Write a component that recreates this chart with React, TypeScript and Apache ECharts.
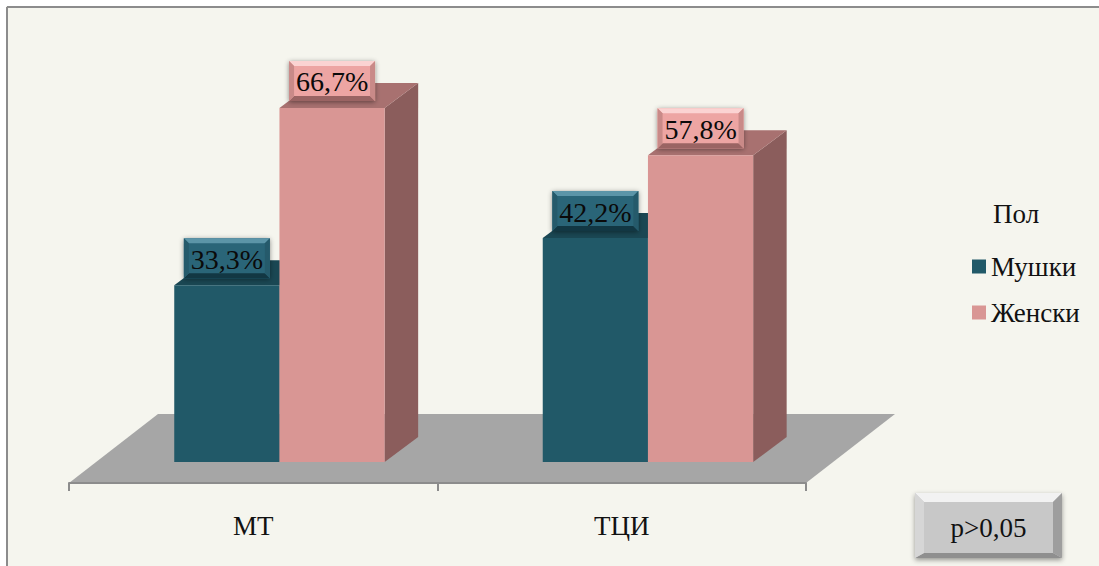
import React, { useEffect, useRef } from "react";
import * as echarts from "echarts";

const categories = ["МТ", "ТЦИ"];
const seriesNames = ["Мушки", "Женски"];
const maleValues = [33.3, 42.2];
const femaleValues = [66.7, 57.8];
const legendTitle = "Пол";
const pNote = "p>0,05";

const FONT = '"Liberation Serif", "Times New Roman", serif';

const fmt = (v: number) => `${v.toFixed(1).replace(".", ",")}%`;

function poly(points: number[][], fill: string, z2 = 0) {
  return { type: "polygon", z2, shape: { points }, style: { fill, stroke: "none" } };
}

function barRender(side: -1 | 1, c: any) {
  return (_p: any, api: any) => {
    const cat = api.value(0);
    const val = api.value(1);
    const base = api.coord([cat, 0]);
    const top = api.coord([cat, val]);
    const band = api.size([1, 0])[0];
    const w = band * 0.2855;
    const cx = base[0] + 26.2;
    const x0 = side < 0 ? cx - w : cx;
    const x1 = x0 + w;
    const yb = base[1] - 21;
    const yt = top[1] - 21;
    const dx = 33.5;
    const dy = 25;
    const lw = 86;
    const lh = 40;
    const lx = (x0 + x1) / 2 - lw / 2;
    const ly = yt - 7 - lh;
    const b = 5;
    return {
      type: "group",
      children: [
        poly([[x1, yb], [x1 + dx, yb - dy], [x1 + dx, yt - dy], [x1, yt]], c.side),
        poly([[x0, yt], [x0 + dx, yt - dy], [x1 + dx, yt - dy], [x1, yt]], c.top),
        { type: "rect", shape: { x: x0, y: yt, width: w, height: yb - yt }, style: { fill: c.front } },
        {
          type: "rect",
          shape: { x: lx, y: ly, width: lw, height: lh },
          style: { fill: c.label, shadowBlur: 5, shadowColor: "rgba(0,0,0,0.45)", shadowOffsetY: 1 },
        },
        poly([[lx, ly], [lx + lw, ly], [lx + lw - b, ly + b], [lx + b, ly + b]], c.bevelTop),
        poly([[lx, ly + lh], [lx + lw, ly + lh], [lx + lw - b, ly + lh - b], [lx + b, ly + lh - b]], c.bevelBottom),
        poly([[lx, ly], [lx + b, ly + b], [lx + b, ly + lh - b], [lx, ly + lh]], c.bevelSide),
        poly([[lx + lw, ly], [lx + lw - b, ly + b], [lx + lw - b, ly + lh - b], [lx + lw, ly + lh]], c.bevelSide),
        {
          type: "text",
          style: {
            x: lx + lw / 2,
            y: ly + lh / 2 + 1,
            text: fmt(val),
            fill: "#0a0a0a",
            font: `28px ${FONT}`,
            align: "center",
            verticalAlign: "middle",
          },
        },
      ],
    };
  };
}

const floorRender = (p: any, api: any) => {
  const cs = p.coordSys;
  const y = cs.y + cs.height;
  const x = cs.x;
  const w = cs.width;
  return poly([[x, y], [x + w, y], [x + w + 89, y - 69], [x + 89, y - 69]], "#a6a6a6");
};

const blue = {
  front: "#215968",
  side: "#173f4a",
  top: "#1a4753",
  label: "#2b6578",
  bevelTop: "#5c95a8",
  bevelBottom: "#123743",
  bevelSide: "#255a6b",
};
const pink = {
  front: "#d99694",
  side: "#8b5d5c",
  top: "#a87170",
  label: "#eda5a3",
  bevelTop: "#fbd3d2",
  bevelBottom: "#9a6463",
  bevelSide: "#c98a88",
};

export default function App() {
  const ref = useRef<HTMLDivElement>(null);
  useEffect(() => {
    const chart = echarts.init(ref.current!, null, { renderer: "svg" });
    const bx = 915, by = 493, bw = 147, bh = 65, bb = 9;
    chart.setOption({
      animation: false,
      backgroundColor: "#ffffff",
      grid: { left: 69, width: 737, top: 58.4, height: 424.6 },
      xAxis: {
        type: "category",
        data: categories,
        z: 5,
        axisLine: { show: true, lineStyle: { color: "#8c8c8c", width: 2 } },
        axisTick: { show: true, alignWithLabel: false, inside: false, length: 8, lineStyle: { color: "#8c8c8c", width: 2 } },
        axisLabel: { color: "#111", fontFamily: FONT, fontSize: 27, margin: 29 },
      },
      yAxis: { type: "value", min: 0, max: 80, show: false },
      legend: {
        data: seriesNames,
        orient: "vertical",
        left: 972,
        top: 253,
        itemWidth: 14,
        itemHeight: 14,
        itemGap: 19,
        icon: "rect",
        textStyle: { color: "#111", fontFamily: FONT, fontSize: 27, lineHeight: 27 },
        padding: 0,
      },
      graphic: [
        {
          type: "group",
          z: 0,
          silent: true,
          children: [
            { type: "rect", shape: { x: 6, y: 6, width: 1093, height: 560 }, style: { fill: "#f5f5ee" } },
            { type: "line", shape: { x1: 7, y1: 7, x2: 1099, y2: 7 }, style: { stroke: "#8c8c8c", lineWidth: 2 } },
            { type: "line", shape: { x1: 7, y1: 7, x2: 7, y2: 566 }, style: { stroke: "#8c8c8c", lineWidth: 2 } },
          ],
        },
        {
          type: "text",
          left: 993,
          top: 200,
          style: { text: legendTitle, fill: "#111", font: `27px ${FONT}` },
        },
        {
          type: "group",
          silent: true,
          children: [
            {
              type: "rect",
              shape: { x: bx, y: by, width: bw, height: bh },
              style: { fill: "#c8c8c8", shadowBlur: 5, shadowColor: "rgba(0,0,0,0.4)", shadowOffsetY: 2 },
            },
            { type: "polygon", shape: { points: [[bx, by], [bx + bw, by], [bx + bw - bb, by + bb], [bx + bb, by + bb]] }, style: { fill: "#f2f2f2" } },
            { type: "polygon", shape: { points: [[bx, by + bh], [bx + bw, by + bh], [bx + bw - bb, by + bh - 5], [bx + bb, by + bh - 5]] }, style: { fill: "#8f8f8f" } },
            { type: "polygon", shape: { points: [[bx, by], [bx + bb, by + bb], [bx + bb, by + bh - 5], [bx, by + bh]] }, style: { fill: "#d6d6d6" } },
            { type: "polygon", shape: { points: [[bx + bw, by], [bx + bw - bb, by + bb], [bx + bw - bb, by + bh - 5], [bx + bw, by + bh]] }, style: { fill: "#9e9e9e" } },
            {
              type: "text",
              style: {
                x: bx + bw / 2,
                y: by + bh / 2 + 2,
                text: pNote,
                fill: "#111",
                font: `27px ${FONT}`,
                align: "center",
                verticalAlign: "middle",
              },
            },
          ],
        },
      ],
      series: [
        {
          type: "custom",
          name: "floor",
          silent: true,
          z: 1,
          renderItem: floorRender,
          data: [[0, 0]],
          encode: { x: 0, y: 1 },
        },
        {
          type: "custom",
          name: seriesNames[0],
          z: 2,
          itemStyle: { color: blue.front },
          renderItem: barRender(-1, blue),
          data: categories.map((_, i) => [i, maleValues[i]]),
          encode: { x: 0, y: 1 },
        },
        {
          type: "custom",
          name: seriesNames[1],
          z: 3,
          itemStyle: { color: pink.front },
          renderItem: barRender(1, pink),
          data: categories.map((_, i) => [i, femaleValues[i]]),
          encode: { x: 0, y: 1 },
        },
      ],
    });
    return () => chart.dispose();
  }, []);
  return <div ref={ref} style={{ position: "fixed", left: 0, top: 0, width: 1099, height: 566 }} />;
}
